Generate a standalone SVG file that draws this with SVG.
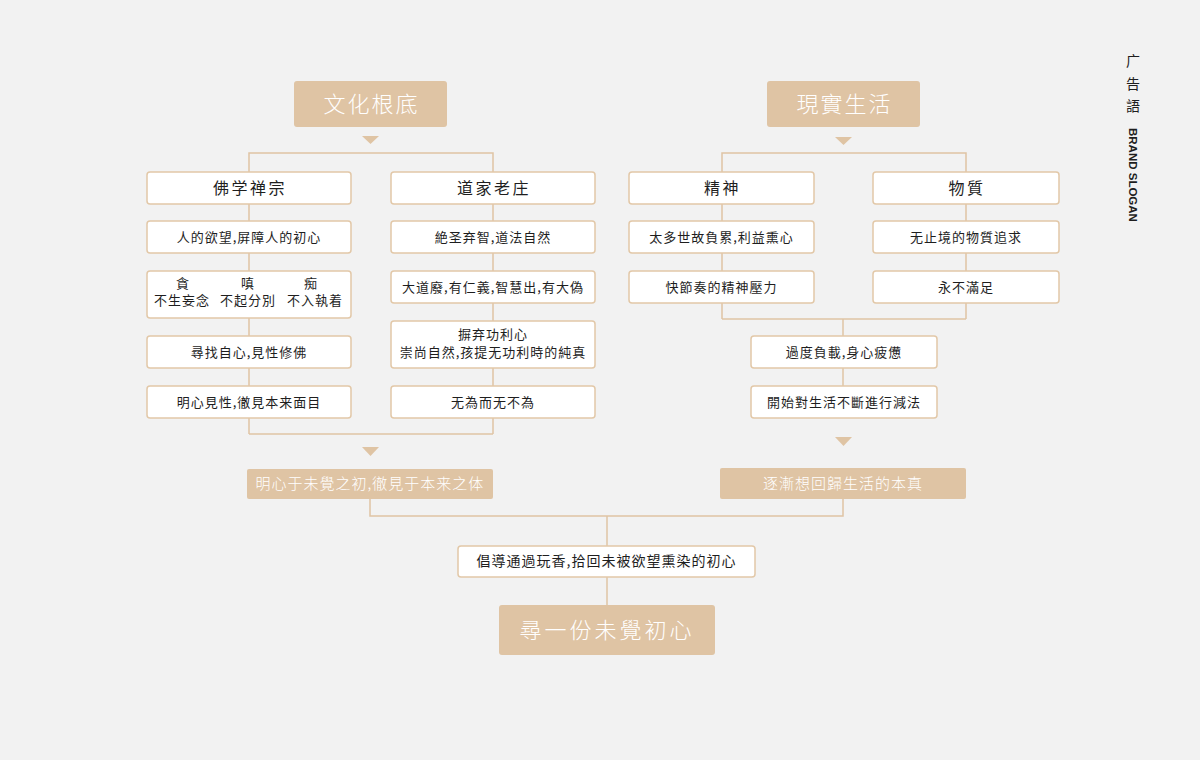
<svg xmlns="http://www.w3.org/2000/svg" width="1200" height="760" viewBox="0 0 1200 760">
<style>
.bg{fill:#f2f2f2}
.line{stroke:#dfc4a4;stroke-width:1.5;fill:none}
.tri{fill:#dfc4a4}
.tan{fill:#dfc4a4}
.wb{fill:#ffffff;stroke:#e2c8a8;stroke-width:1.5}
.title{font-family:"Noto Sans CJK SC","Noto Sans CJK TC",sans-serif;font-size:22px;font-weight:300;fill:#ffffff;text-anchor:middle;letter-spacing:2px}
.sub{font-family:"Noto Sans CJK SC","Noto Sans CJK TC",sans-serif;font-size:15px;font-weight:300;fill:#ffffff;text-anchor:middle;letter-spacing:1px}
.h{font-family:"Noto Sans CJK SC","Noto Sans CJK TC",sans-serif;font-size:16px;fill:#1e1e1e;text-anchor:middle;letter-spacing:2.5px}
.t{font-family:"Noto Sans CJK SC","Noto Sans CJK TC",sans-serif;font-size:13px;fill:#1e1e1e;text-anchor:middle;letter-spacing:1px}
.side{font-family:"Noto Sans CJK SC","Noto Sans CJK TC",sans-serif;font-size:14px;fill:#1e1e1e;text-anchor:middle}
.en{font-family:"Liberation Sans",Arial,sans-serif;font-size:11.5px;font-weight:bold;fill:#1e1e1e}
</style>
<rect class="bg" x="0" y="0" width="1200" height="760"/>

<g id="connectors">
  <polyline class="line" points="249,434 249,153 493,153 493,434"/>
  <line class="line" x1="249" y1="434" x2="493" y2="434"/>
  <polygon class="tri" points="362,136 379,136 370.5,144"/>
  <polygon class="tri" points="362,447 379,447 370.5,456"/>
  <polyline class="line" points="722,319 722,153 966,153 966,319"/>
  <line class="line" x1="722" y1="319" x2="966" y2="319"/>
  <line class="line" x1="843" y1="319" x2="843" y2="386"/>
  <polygon class="tri" points="835,137 852,137 843.5,145"/>
  <polygon class="tri" points="835,437 852,437 843.5,446"/>
  <polyline class="line" points="370,499 370,516 843,516 843,499"/>
  <line class="line" x1="607" y1="516" x2="607" y2="546"/>
  <line class="line" x1="607" y1="577" x2="607" y2="605"/>
</g>

<g id="header-left">
  <rect class="tan" x="294" y="81" width="153" height="46" rx="3"/>
  <text class="title" x="371.5" y="111.5">文化根底</text>
</g>
<g id="header-right">
  <rect class="tan" x="767" y="81" width="153" height="46" rx="3"/>
  <text class="title" x="844.5" y="111.5">現實生活</text>
</g>

<g id="fo">
  <rect class="wb" x="147" y="172" width="204" height="32" rx="3"/>
  <text class="h" x="250" y="194">佛学禅宗</text>
</g>
<g id="dao">
  <rect class="wb" x="391" y="172" width="204" height="32" rx="3"/>
  <text class="h" x="494" y="194">道家老庄</text>
</g>
<g id="jingshen">
  <rect class="wb" x="629" y="172" width="185" height="32" rx="3"/>
  <text class="h" x="722.5" y="194">精神</text>
</g>
<g id="wuzhi">
  <rect class="wb" x="873" y="172" width="186" height="32" rx="3"/>
  <text class="h" x="967" y="194">物質</text>
</g>

<g id="l2">
  <rect class="wb" x="147" y="221" width="204" height="32" rx="3"/>
  <text class="t" x="249" y="241.5">人的欲望,屏障人的初心</text>
</g>
<g id="l3">
  <rect class="wb" x="147" y="271" width="204" height="47" rx="3"/>
  <text class="t" x="183" y="288">貪</text>
  <text class="t" x="248" y="288">嗔</text>
  <text class="t" x="311" y="288">痴</text>
  <text class="t" x="182" y="305">不生妄念</text>
  <text class="t" x="248" y="305">不起分別</text>
  <text class="t" x="315" y="305">不入執着</text>
</g>
<g id="l4">
  <rect class="wb" x="147" y="336" width="204" height="32" rx="3"/>
  <text class="t" x="249" y="356.5">尋找自心,見性修佛</text>
</g>
<g id="l5">
  <rect class="wb" x="147" y="386" width="204" height="32" rx="3"/>
  <text class="t" x="249" y="406.5">明心見性,徹見本来面目</text>
</g>

<g id="r2">
  <rect class="wb" x="391" y="221" width="204" height="32" rx="3"/>
  <text class="t" x="493" y="241.5">絶圣弃智,道法自然</text>
</g>
<g id="r3">
  <rect class="wb" x="391" y="271" width="204" height="32" rx="3"/>
  <text class="t" x="493" y="291.5">大道廢,有仁義,智慧出,有大偽</text>
</g>
<g id="r4">
  <rect class="wb" x="391" y="321" width="204" height="47" rx="3"/>
  <text class="t" x="493" y="339">摒弃功利心</text>
  <text class="t" x="493" y="357">崇尚自然,孩提无功利時的純真</text>
</g>
<g id="r5">
  <rect class="wb" x="391" y="386" width="204" height="32" rx="3"/>
  <text class="t" x="493" y="406.5">无為而无不為</text>
</g>

<g id="j2">
  <rect class="wb" x="629" y="221" width="185" height="32" rx="3"/>
  <text class="t" x="721.5" y="241.5">太多世故負累,利益熏心</text>
</g>
<g id="j3">
  <rect class="wb" x="629" y="271" width="185" height="32" rx="3"/>
  <text class="t" x="721.5" y="291.5">快節奏的精神壓力</text>
</g>
<g id="w2">
  <rect class="wb" x="873" y="221" width="186" height="32" rx="3"/>
  <text class="t" x="966" y="241.5">无止境的物質追求</text>
</g>
<g id="w3">
  <rect class="wb" x="873" y="271" width="186" height="32" rx="3"/>
  <text class="t" x="966" y="291.5">永不滿足</text>
</g>
<g id="m1">
  <rect class="wb" x="751" y="336" width="186" height="32" rx="3"/>
  <text class="t" x="844" y="356.5">過度負載,身心疲憊</text>
</g>
<g id="m2">
  <rect class="wb" x="751" y="386" width="186" height="32" rx="3"/>
  <text class="t" x="844" y="406.5">開始對生活不斷進行減法</text>
</g>

<g id="sum-left">
  <rect class="tan" x="247" y="469" width="246" height="30" rx="2"/>
  <text class="sub" x="370" y="489">明心于未覺之初,徹見于本来之体</text>
</g>
<g id="sum-right">
  <rect class="tan" x="720" y="468" width="246" height="31" rx="2"/>
  <text class="sub" x="843" y="488.5">逐漸想回歸生活的本真</text>
</g>

<g id="advocate">
  <rect class="wb" x="458" y="546" width="297" height="31" rx="3"/>
  <text class="t" x="606.5" y="566" style="font-size:14px">倡導通過玩香,拾回未被欲望熏染的初心</text>
</g>
<g id="final">
  <rect class="tan" x="499" y="605" width="216" height="50" rx="3"/>
  <text class="title" x="607" y="638" style="letter-spacing:3px">尋一份未覺初心</text>
</g>

<g id="side">
  <text class="side" x="1133" y="66">广</text>
  <text class="side" x="1133" y="89">告</text>
  <text class="side" x="1133" y="111">語</text>
  <text class="en" transform="translate(1129,128) rotate(90)">BRAND SLOGAN</text>
</g>
</svg>
